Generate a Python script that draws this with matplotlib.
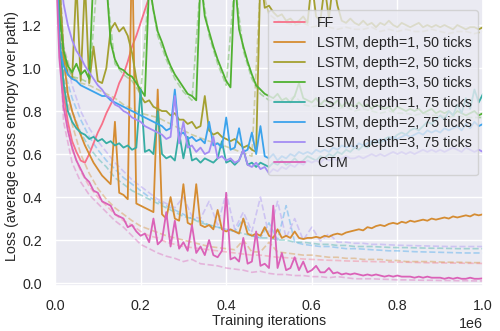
import numpy as np
import matplotlib
matplotlib.use('Agg')
import matplotlib.pyplot as plt
import seaborn as sns

sns.set_theme(style='darkgrid')
plt.rcParams['font.family'] = ['Liberation Sans', 'DejaVu Sans']
plt.rcParams['font.size'] = 10.3

# training iterations (solid curves every 10k, dashed curves every 20k)
steps = np.linspace(0, 1e6, 101)
steps_c = np.linspace(0, 1e6, 51)

labels = ['FF', 'LSTM, depth=1, 50 ticks', 'LSTM, depth=2, 50 ticks', 'LSTM, depth=3, 50 ticks',
          'LSTM, depth=1, 75 ticks', 'LSTM, depth=2, 75 ticks', 'LSTM, depth=3, 75 ticks', 'CTM']
colors = ['#f77189', '#d58c32', '#a4a031', '#50b131', '#36ada4', '#3ba3ec', '#a48cf4', '#db62b8']

# ---- solid curves ----
ff = [1.80, 1.15, 0.88, 0.75, 0.66, 0.61, 0.57, 0.56, 0.60, 0.65,
      0.70, 0.74, 0.79, 0.83, 0.87, 0.93, 0.97, 1.03, 1.10, 1.15,
      1.21, 1.27, 1.33, 1.40, 1.46, 1.52, 1.58, 1.64, 1.70, 1.76, 1.82]

lstm1_50 = [1.80, 1.35, 1.05, 0.88, 0.80, 0.74, 0.69, 0.64, 0.60, 0.56,
            0.53, 0.50, 0.48, 0.46, 0.75, 0.42, 0.41, 0.39, 1.60, 0.37,
            0.36, 0.35, 0.34, 0.33, 0.90, 0.32, 0.30, 0.40, 0.30, 0.29,
            0.46, 0.28, 0.27, 0.46, 0.27, 0.26, 0.27, 0.25, 0.34, 0.25,
            0.24, 0.25, 0.24, 0.23, 0.30, 0.23, 0.22, 0.23, 0.22, 0.26,
            0.22, 0.21, 0.25, 0.21, 0.22, 0.21, 0.24, 0.21, 0.205, 0.21,
            0.21, 0.215, 0.21, 0.22, 0.215, 0.225, 0.23, 0.225, 0.235, 0.24,
            0.245, 0.25, 0.245, 0.26, 0.255, 0.265, 0.27, 0.265, 0.275, 0.28,
            0.275, 0.285, 0.28, 0.29, 0.285, 0.29, 0.295, 0.29, 0.30, 0.295,
            0.30, 0.305, 0.30, 0.31, 0.305, 0.31, 0.315, 0.31, 0.32, 0.315, 0.32]

lstm2_50 = [1.80, 1.40, 1.08, 0.97, 0.95, 1.40, 0.94, 1.40, 0.93, 1.10,
            0.94, 0.93, 1.00, 1.18, 1.21, 1.17, 1.19, 1.15, 1.07, 0.95,
            0.87, 0.84, 0.85, 0.82, 0.81, 0.80, 0.80, 0.78, 0.79, 0.76,
            0.76, 0.74, 0.75, 0.72, 0.73, 0.87, 0.71, 0.69, 0.70, 0.68,
            0.67, 0.66, 0.67, 0.65, 0.63, 0.64, 0.62, 0.61, 1.45, 1.28,
            1.29, 1.26, 1.24, 1.25, 1.22, 1.23, 1.21, 1.22, 1.24, 1.21,
            1.40, 1.24, 1.22, 1.38, 1.23, 1.40, 1.29, 1.22, 1.21, 1.23,
            1.21, 1.20, 1.22, 1.20, 1.21, 1.19, 1.21, 1.20, 1.22, 1.20,
            1.19, 1.21, 1.20, 1.19, 1.20, 1.21, 1.19, 1.20, 1.19, 1.20,
            1.19, 1.20, 1.19, 1.18, 1.20, 1.19, 1.18, 1.19, 1.19, 1.18, 1.19]

lstm3_50 = [1.80, 1.25, 1.08, 1.01, 0.98, 1.02, 0.97, 0.99, 0.95, 1.45,
            1.48, 1.45, 1.40, 1.12, 1.04, 1.00, 0.99, 0.97, 0.96, 0.93,
            0.90, 0.87, 1.40, 1.27, 1.17, 1.12, 1.06, 1.01, 0.97, 0.94,
            0.91, 0.88, 0.87, 0.85, 1.42, 1.24, 1.17, 1.10, 1.04, 0.99,
            0.94, 0.91, 1.42, 1.18, 1.10, 1.03, 0.97, 0.92, 0.90, 0.88,
            0.87, 0.86, 0.88, 0.85, 0.86, 0.84, 0.87, 0.93, 0.86, 0.85,
            0.84, 0.86, 0.83, 0.85, 0.84, 0.83, 0.85, 0.82, 0.84, 0.83,
            0.82, 0.84, 0.82, 0.83, 0.81, 0.83, 0.82, 0.81, 0.82, 0.80,
            0.82, 0.81, 0.80, 0.81, 0.80, 0.81, 0.79, 0.80, 0.81, 0.79,
            0.80, 0.79, 0.80, 0.78, 0.80, 0.79, 0.78, 0.79, 0.80, 0.78, 0.79]

lstm1_75 = [1.80, 1.15, 0.93, 0.80, 0.75, 0.72, 0.70, 0.69, 0.67, 0.68,
            0.66, 0.67, 0.65, 0.66, 0.64, 0.65, 0.63, 0.64, 0.62, 0.63,
            0.90, 0.61, 0.62, 0.60, 0.80, 0.60, 0.58, 0.59, 0.57, 0.70,
            0.58, 0.68, 0.57, 0.58, 0.56, 0.58, 0.57, 0.56, 0.58, 0.66,
            0.56, 0.57, 0.55, 0.57, 0.62, 0.55, 0.56, 0.54, 0.56, 0.55,
            0.54, 0.56, 0.55, 0.57, 0.55, 0.56, 0.58, 0.56, 0.57, 0.59,
            0.58, 0.57, 0.59, 0.58, 0.60, 0.59, 0.61, 0.60, 0.62, 0.61,
            0.63, 0.62, 0.64, 0.63, 0.65, 0.66, 0.65, 0.67, 0.68, 0.67,
            0.69, 0.70, 0.69, 0.71, 0.72, 0.71, 0.73, 0.75, 0.74, 0.76,
            0.78, 0.76, 0.80, 0.78, 0.83, 0.79, 0.86, 0.81, 0.90, 0.84, 0.88]

lstm2_75 = [1.80, 1.10, 1.01, 0.97, 0.95, 0.94, 0.92, 0.91, 0.90, 0.89,
            0.88, 0.87, 0.87, 0.85, 0.84, 0.83, 0.82, 0.81, 0.80, 0.79,
            0.78, 0.77, 0.76, 0.75, 0.74, 0.73, 0.71, 0.72, 0.90, 0.69,
            0.70, 0.67, 0.68, 0.66, 0.67, 0.65, 0.75, 0.64, 0.65, 0.63,
            0.77, 0.62, 0.63, 0.72, 0.61, 0.62, 0.70, 0.60, 0.73, 0.59,
            0.58, 0.60, 0.57, 0.59, 0.58, 0.60, 0.59, 0.61, 0.60, 0.61,
            0.60, 0.62, 0.61, 0.62, 0.61, 0.63, 0.62, 0.64, 0.63, 0.64,
            0.63, 0.65, 0.64, 0.65, 0.66, 0.65, 0.67, 0.66, 0.67, 0.68,
            0.67, 0.68, 0.69, 0.68, 0.69, 0.70, 0.69, 0.71, 0.70, 0.71,
            0.70, 0.72, 0.71, 0.72, 0.73, 0.71, 0.74, 0.72, 0.75, 0.73, 0.74]

lstm3_75 = [1.80, 1.50, 1.30, 1.20, 1.13, 1.08, 1.05, 1.01, 0.98, 0.95,
            0.92, 0.90, 0.87, 0.86, 0.83, 0.82, 0.80, 0.79, 0.77, 0.76,
            0.75, 0.73, 0.72, 0.71, 0.70, 0.69, 0.67, 0.68, 0.87, 0.65,
            0.75, 0.63, 0.64, 0.61, 0.63, 0.60, 0.61, 0.68, 0.58, 0.59,
            0.57, 0.58, 0.56, 0.57, 0.62, 0.55, 0.54, 0.56, 0.53, 0.54,
            0.51, 0.53, 0.52, 0.54, 0.53, 0.55, 0.54, 0.56, 0.55, 0.57,
            0.56, 0.57, 0.56, 0.58, 0.57, 0.58, 0.57, 0.58, 0.59, 0.58,
            0.58, 0.59, 0.58, 0.59, 0.60, 0.59, 0.60, 0.59, 0.60, 0.61,
            0.60, 0.61, 0.60, 0.61, 0.60, 0.61, 0.62, 0.61, 0.62, 0.61,
            0.62, 0.61, 0.62, 0.63, 0.62, 0.61, 0.63, 0.62, 0.61, 0.62, 0.61]

ctm = [1.60, 1.05, 0.82, 0.71, 0.63, 0.57, 0.53, 0.49, 0.47, 0.43,
       0.42, 0.38, 0.37, 0.36, 0.32, 0.31, 0.30, 0.26, 0.27, 0.24,
       0.22, 0.23, 0.19, 0.30, 0.18, 0.20, 0.33, 0.17, 0.29, 0.16,
       0.19, 0.15, 0.27, 0.14, 0.17, 0.13, 0.20, 0.13, 0.12, 0.15,
       0.42, 0.11, 0.12, 0.10, 0.21, 0.09, 0.10, 0.24, 0.08, 0.09,
       0.07, 0.36, 0.07, 0.14, 0.06, 0.07, 0.12, 0.06, 0.10, 0.05,
       0.06, 0.08, 0.05, 0.05, 0.07, 0.045, 0.05, 0.04, 0.045, 0.04,
       0.045, 0.04, 0.035, 0.04, 0.035, 0.04, 0.035, 0.03, 0.035, 0.03,
       0.035, 0.03, 0.03, 0.03, 0.025, 0.03, 0.025, 0.03, 0.025, 0.025,
       0.025, 0.02, 0.025, 0.02, 0.025, 0.02, 0.02, 0.025, 0.02, 0.02, 0.022]

# ---- dashed (lighter) curves ----
ff_d = [1.75, 0.82, 0.62, 0.52, 0.45, 0.40, 0.36, 0.32, 0.29, 0.27,
        0.24, 0.22, 0.21, 0.19, 0.18, 0.17, 0.165, 0.16, 0.155, 0.15,
        0.145, 0.14, 0.135, 0.13, 0.13, 0.125, 0.12, 0.118, 0.115, 0.112,
        0.11, 0.108, 0.106, 0.105, 0.103, 0.102, 0.101, 0.10, 0.099, 0.098,
        0.097, 0.097, 0.096, 0.095, 0.094, 0.094, 0.093, 0.093, 0.092, 0.092, 0.091]

lstm1_50_d = [1.70, 0.95, 0.74, 0.60, 0.51, 0.44, 0.39, 0.35, 0.32, 0.29,
              0.265, 0.25, 0.235, 0.22, 0.21, 0.20, 0.19, 0.18, 0.17, 0.165,
              0.16, 0.155, 0.20, 0.145, 0.145, 0.19, 0.145, 0.14, 0.135, 0.13,
              0.13, 0.125, 0.12, 0.12, 0.115, 0.115, 0.11, 0.11, 0.11, 0.105,
              0.105, 0.10, 0.10, 0.10, 0.10, 0.098, 0.097, 0.097, 0.096, 0.095, 0.095]

lstm2_50_d = [1.80, 1.10, 0.96, 0.93, 0.92, 0.90, 0.88, 0.86, 0.83, 0.81,
              0.79, 0.78, 0.77, 0.75, 0.73, 0.71, 0.69, 0.675, 0.66, 0.65,
              0.635, 0.62, 0.605, 0.59, 1.40, 1.25, 1.22, 1.21, 1.20, 1.21,
              1.19, 1.20, 1.19, 1.18, 1.19, 1.18, 1.18, 1.19, 1.17, 1.18,
              1.17, 1.18, 1.17, 1.17, 1.18, 1.17, 1.16, 1.17, 1.17, 1.16, 1.17]

lstm3_50_d = [1.80, 1.05, 0.96, 0.95, 0.93, 1.45, 1.38, 1.02, 0.97, 0.94,
              0.88, 1.38, 1.15, 1.04, 0.95, 0.89, 0.85, 1.40, 1.15, 1.02,
              0.92, 1.40, 1.08, 0.95, 0.88, 0.85, 0.85, 0.84, 0.87, 0.83,
              0.82, 0.83, 0.82, 0.81, 0.82, 0.80, 0.81, 0.80, 0.79, 0.80,
              0.79, 0.79, 0.78, 0.79, 0.78, 0.78, 0.77, 0.78, 0.77, 0.77, 0.77]

lstm1_75_d = [1.75, 0.95, 0.80, 0.70, 0.63, 0.58, 0.54, 0.49, 0.46, 0.43,
              0.41, 0.39, 0.37, 0.35, 0.33, 0.31, 0.30, 0.28, 0.27, 0.26,
              0.25, 0.24, 0.23, 0.22, 0.21, 0.21, 0.20, 0.20, 0.19, 0.19,
              0.185, 0.18, 0.18, 0.175, 0.175, 0.17, 0.17, 0.17, 0.168, 0.166,
              0.165, 0.165, 0.164, 0.163, 0.162, 0.162, 0.161, 0.16, 0.16, 0.16, 0.16]

lstm2_75_d = [1.75, 1.00, 0.86, 0.76, 0.68, 0.62, 0.57, 0.53, 0.49, 0.46,
              0.43, 0.40, 0.38, 0.36, 0.34, 0.32, 0.30, 0.29, 0.27, 0.26,
              0.25, 0.24, 0.30, 0.22, 0.21, 0.28, 0.20, 0.36, 0.19, 0.18,
              0.175, 0.17, 0.17, 0.165, 0.16, 0.16, 0.158, 0.155, 0.153, 0.15,
              0.15, 0.148, 0.146, 0.145, 0.144, 0.143, 0.142, 0.141, 0.14, 0.14, 0.14]

lstm3_75_d = [1.75, 1.10, 0.92, 0.80, 0.72, 0.66, 0.61, 0.56, 0.52, 0.48,
              0.45, 0.42, 0.39, 0.37, 0.35, 0.40, 0.31, 0.30, 0.38, 0.27,
              0.42, 0.25, 0.33, 0.24, 0.40, 0.22, 0.38, 0.21, 0.30, 0.20,
              0.26, 0.195, 0.23, 0.19, 0.19, 0.185, 0.185, 0.18, 0.18, 0.178,
              0.176, 0.175, 0.174, 0.173, 0.172, 0.171, 0.17, 0.17, 0.17, 0.17, 0.17]

ctm_d = [1.60, 0.75, 0.56, 0.47, 0.41, 0.37, 0.33, 0.29, 0.26, 0.22,
         0.18, 0.16, 0.14, 0.125, 0.115, 0.10, 0.11, 0.09, 0.085, 0.08,
         0.07, 0.065, 0.06, 0.05, 0.055, 0.045, 0.04, 0.04, 0.035, 0.035,
         0.03, 0.03, 0.025, 0.03, 0.025, 0.02, 0.02, 0.02, 0.018, 0.017,
         0.015, 0.015, 0.014, 0.013, 0.013, 0.012, 0.012, 0.011, 0.011, 0.01, 0.01]

solid = [ff, lstm1_50, lstm2_50, lstm3_50, lstm1_75, lstm2_75, lstm3_75, ctm]
dashed = [ff_d, lstm1_50_d, lstm2_50_d, lstm3_50_d, lstm1_75_d, lstm2_75_d, lstm3_75_d, ctm_d]

fig = plt.figure(figsize=(5, 3.31), dpi=100)
ax = fig.add_axes([0.11, 0.137, 0.856, 0.903])

for vals, c in zip(dashed, colors):
    ax.plot(steps_c[:len(vals)], vals, color=c, alpha=0.4, lw=1.2, ls='--')
for vals, c, lab in zip(solid, colors, labels):
    ax.plot(steps[:len(vals)], vals, color=c, lw=1.3, label=lab)

ax.set_xlim(0, 1e6)
ax.set_ylim(-0.012, 1.378)
ax.set_xlabel('Training iterations', fontsize=10.3, labelpad=1)
ax.set_ylabel('Loss (average cross entropy over path)', fontsize=10.3, labelpad=2)
ax.tick_params(labelsize=10.3)
ax.xaxis.get_offset_text().set_fontsize(10.3)
ax.legend(loc='upper right', bbox_to_anchor=(0.955, 0.97), bbox_transform=fig.transFigure,
          borderaxespad=0, fontsize=10.3, labelspacing=0.42, handlelength=2.2)

fig.savefig('out.png', dpi=100)
